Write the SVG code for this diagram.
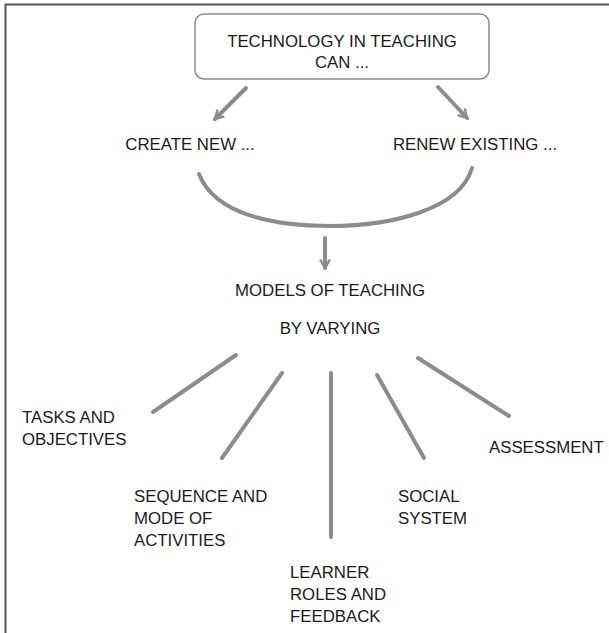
<svg xmlns="http://www.w3.org/2000/svg" width="609" height="633" viewBox="0 0 609 633">
<defs>
<style>
text{font-family:"Liberation Sans",Arial,sans-serif;font-size:16.8px;fill:#1a1a1a}
.c{text-anchor:middle}
.ln{stroke:#8c8c8c;stroke-width:4;fill:none;stroke-linecap:round}
</style>
<marker id="ah" viewBox="0 0 10 10" refX="8" refY="5" markerWidth="3" markerHeight="3" orient="auto" markerUnits="strokeWidth">
<path d="M1,1 L8,5 L1,9" fill="none" stroke="#8c8c8c" stroke-width="2"/>
</marker>
</defs>
<rect x="5.5" y="4.5" width="610" height="640" fill="#fff" stroke="#555" stroke-width="2"/>
<g id="top">
<rect x="195" y="14" width="294" height="65" rx="9" fill="#fff" stroke="#8c8c8c" stroke-width="1.5"/>
<text class="c" x="342" y="47">TECHNOLOGY IN TEACHING</text>
<text class="c" x="342" y="68">CAN ...</text>
</g>
<g id="create"><text class="c" x="190" y="150">CREATE NEW ...</text></g>
<g id="renew"><text class="c" x="475" y="150">RENEW EXISTING ...</text></g>
<g id="models">
<text class="c" x="330" y="296">MODELS OF TEACHING</text>
<text class="c" x="330" y="334">BY VARYING</text>
</g>
<g id="tasks"><text x="22" y="423">TASKS AND</text><text x="22" y="445">OBJECTIVES</text></g>
<g id="sequence"><text x="134" y="502">SEQUENCE AND</text><text x="134" y="524">MODE OF</text><text x="134" y="546">ACTIVITIES</text></g>
<g id="learner"><text x="290" y="578">LEARNER</text><text x="290" y="600">ROLES AND</text><text x="290" y="622">FEEDBACK</text></g>
<g id="social"><text x="398" y="502">SOCIAL</text><text x="398" y="524">SYSTEM</text></g>
<g id="assessment"><text x="489" y="453">ASSESSMENT</text></g>
<g id="connectors">
<line class="ln" x1="246" y1="88" x2="215" y2="119" marker-end="url(#ah)"/>
<line class="ln" x1="438" y1="87" x2="467" y2="118" marker-end="url(#ah)"/>
<path class="ln" d="M199,174 C215,215 275,226 330,226 C390,226 460,210 472,168"/>
<line class="ln" x1="325" y1="238" x2="325" y2="268" marker-end="url(#ah)"/>
<line class="ln" x1="153" y1="412" x2="236" y2="355"/>
<line class="ln" x1="222" y1="458" x2="282" y2="373"/>
<line class="ln" x1="331" y1="373" x2="331" y2="537"/>
<line class="ln" x1="377" y1="375" x2="424" y2="458"/>
<line class="ln" x1="418" y1="358" x2="509" y2="416"/>
</g>
</svg>
